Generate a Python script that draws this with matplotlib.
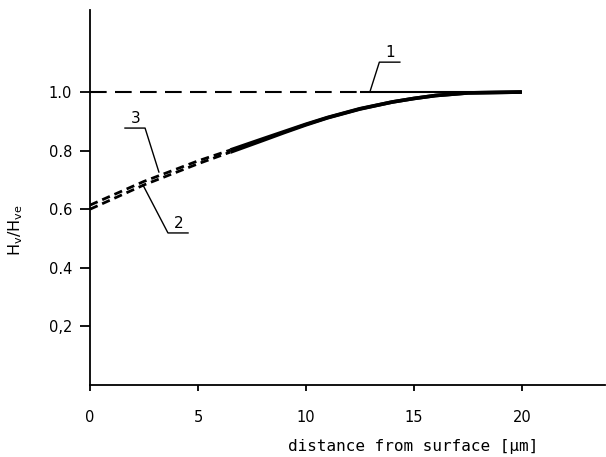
import matplotlib
matplotlib.use("Agg")
import matplotlib.pyplot as plt
import numpy as np

# ---- data ----
x_ticks = [0, 5, 10, 15, 20]
y_ticks = [0.2, 0.4, 0.6, 0.8, 1.0]
y_tick_labels = ["0,2", "0.4", "0.6", "0.8", "1.0"]

# curve 1: constant reference
x1_dash = [0, 12.5]
y1_dash = [1.0, 1.0]
x1_solid = [12.5, 20]
y1_solid = [1.0, 1.0]

# curves 2 and 3
x23 = [0, 2.5, 5, 6.5, 8, 9, 10, 11, 12.5, 14, 15, 16, 17.5, 20]
y2 = [0.600, 0.683, 0.755, 0.795, 0.835, 0.862, 0.888, 0.912, 0.942, 0.966, 0.978, 0.988, 0.997, 1.0]
y3 = [0.614, 0.695, 0.765, 0.802, 0.840, 0.865, 0.890, 0.913, 0.943, 0.966, 0.978, 0.988, 0.997, 1.0]
dash_end_index = 3  # dashed up to x = 6.5

fig = plt.figure(figsize=(6.06, 4.57), dpi=100)
ax = fig.add_axes([90/606, (457-385)/457, (605-90)/606, (385-10)/457])

ax.set_xlim(0, 23.85)
ax.set_ylim(0, 1.28)

# curve 1
ax.plot(x1_dash, y1_dash, color="black", lw=1.5, linestyle=(0, (8, 4)))
ax.plot(x1_solid, y1_solid, color="black", lw=1.5, solid_capstyle="butt")

# curves 2 and 3
k = dash_end_index
for yy in (y2, y3):
    ax.plot(x23[:k+1], yy[:k+1], color="black", lw=2.0, linestyle=(0, (3, 1.8)))
    ax.plot(x23[k:], yy[k:], color="black", lw=2.6, solid_capstyle="butt",
            solid_joinstyle="round")

# annotation leaders
lead_kw = dict(color="black", lw=1.0)
# 1
ax.plot([12.96, 13.4, 14.35], [1.0, 1.102, 1.102], **lead_kw)
ax.text(13.9, 1.108, "1", ha="center", va="bottom", fontsize=11)
# 3
ax.plot([3.19, 2.55, 1.62], [0.727, 0.877, 0.877], **lead_kw)
ax.text(2.1, 0.883, "3", ha="center", va="bottom", fontsize=11)
# 2
ax.plot([2.45, 3.61, 4.54], [0.683, 0.519, 0.519], **lead_kw)
ax.text(4.1, 0.525, "2", ha="center", va="bottom", fontsize=11)

# spines
for s in ("top", "right"):
    ax.spines[s].set_visible(False)
for s in ("left", "bottom"):
    ax.spines[s].set_linewidth(1.3)

ax.set_xticks(x_ticks)
ax.set_xticklabels([str(t) for t in x_ticks])
ax.set_yticks(y_ticks)
ax.set_yticklabels(y_tick_labels)
ax.tick_params(axis="x", direction="out", length=4, width=1.3, pad=14, labelsize=10.5)
ax.tick_params(axis="y", direction="out", length=7, width=1.3, pad=6, labelsize=10.5)

ax.set_xlabel("distance from surface [µm]", family="DejaVu Sans Mono", fontsize=11.5,
              va="center")
ax.xaxis.set_label_coords((413-90)/515, (385-446)/375)
ax.set_ylabel(r"H$_\mathregular{v}$/H$_\mathregular{ve}$", fontsize=11.5)
ax.yaxis.set_label_coords((25-90)/515, (385-230)/375)

fig.savefig("out.png", dpi=100)
